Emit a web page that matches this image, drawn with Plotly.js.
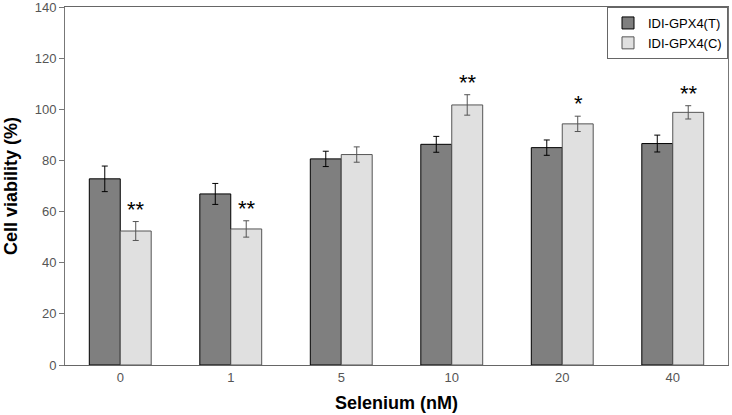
<!DOCTYPE html>
<html><head><meta charset="utf-8">
<script src="https://cdn.plot.ly/plotly-3.0.1.min.js"></script>
<style>html,body{margin:0;padding:0;background:#fff}#c{width:732px;height:415px}</style>
</head><body><div id="c"></div>
<script>
const categories = ["0","1","5","10","20","40"];
const seriesT = [72.8, 66.9, 80.6, 86.3, 85.0, 86.6];
const errT = [5.0, 4.1, 3.0, 3.1, 3.0, 3.3];
const seriesC = [52.4, 53.2, 82.3, 101.7, 94.3, 98.8];
const errC = [3.7, 3.2, 3.0, 4.0, 3.0, 2.6];
const sigC = ["**", "**", "", "**", "*", "**"];

const traces = [
  {type:'bar', name:'IDI-GPX4(T)', x:categories, y:seriesT,
   marker:{color:'#7f7f7f', line:{color:'#000', width:1}},
   error_y:{type:'data', array:errT, visible:true, color:'#000', thickness:1, width:3}},
  {type:'bar', name:'IDI-GPX4(C)', x:categories, y:seriesC,
   marker:{color:'#e0e0e0', line:{color:'#555', width:1}},
   error_y:{type:'data', array:errC, visible:true, color:'#555', thickness:1, width:3}}
];

const annotations = [];
categories.forEach((c,i)=>{
  if (sigC[i]) annotations.push({x:i, y:seriesC[i]+errC[i], xref:'x', yref:'y',
    text:sigC[i], showarrow:false, xshift:16, yshift:-2, yanchor:'bottom',
    font:{family:'Liberation Sans, Arial, sans-serif', size:22, color:'#000'}});
});

const layout = {
  width:732, height:415,
  margin:{l:65, r:4, t:7, b:50},
  paper_bgcolor:'#fff', plot_bgcolor:'#fff',
  barmode:'group', bargap:0.44, bargroupgap:0,
  font:{family:'Liberation Sans, Arial, sans-serif'},
  xaxis:{type:'category', range:[-0.5, categories.length-0.5], showline:true, mirror:true, linecolor:'#666', linewidth:1,
    ticks:'', showgrid:false, tickfont:{size:13, color:'#555'},
    title:{text:'<b>Selenium (nM)</b>', font:{size:18, color:'#000'}, standoff:12}},
  yaxis:{range:[0,140], dtick:20, showline:true, mirror:true, linecolor:'#777', linewidth:1,
    ticks:'outside', ticklen:5, tickcolor:'#777', showgrid:false, zeroline:false,
    tickfont:{size:13, color:'#555'}, ticklabeloverflow:'allow',
    title:{text:'<b>Cell viability (%)</b>', font:{size:18, color:'#000'}, standoff:12}},
  legend:{x:1, xanchor:'right', y:1, yanchor:'top', bordercolor:'#666', borderwidth:1,
    bgcolor:'#fff', font:{size:13, color:'#000'}, tracegroupgap:0,
    itemwidth:30},
  showlegend:true,
  annotations:annotations
};
Plotly.newPlot('c', traces, layout, {displayModeBar:false, staticPlot:true});
</script></body></html>
